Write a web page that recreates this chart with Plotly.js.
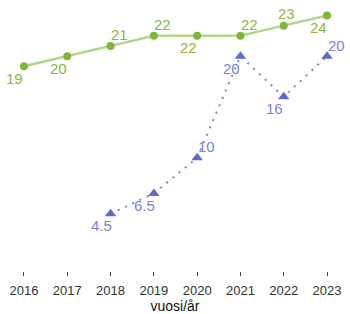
<!DOCTYPE html>
<html>
<head>
<meta charset="utf-8">
<script src="https://cdn.plot.ly/plotly-3.0.1.min.js"></script>
<style>html,body{margin:0;padding:0;background:#fff;}#chart{width:350px;height:314px;}</style>
</head>
<body>
<div id="chart"></div>
<script>
var yearsGreen = [2016, 2017, 2018, 2019, 2020, 2021, 2022, 2023];
var valuesGreen = [19, 20, 21, 22, 22, 22, 23, 24];
var labelsGreen = ["19", "20", "21", "22", "22", "22", "23", "24"];
var posGreen = ["bl", "bl", "tr", "tr", "bl", "tr", "tc", "bl"];

var yearsBlue = [2018, 2019, 2020, 2021, 2022, 2023];
var valuesBlue = [4.5, 6.5, 10, 20, 16, 20];
var labelsBlue = ["4.5", "6.5", "10", "20", "16", "20"];
var posBlue = ["bl", "bl", "tr", "bl", "bc", "tr"];

var tickYears = [2016, 2017, 2018, 2019, 2020, 2021, 2022, 2023];

var fontFam = "Liberation Sans, Arial, sans-serif";
var greenText = "#86b843";
var blueText = "#7a84d4";

// label offset (pixels) per direction keyword
var nudge = {
  bl: {x: -9, y: -12},
  tr: {x: 9, y: 11},
  tc: {x: 3, y: 12},
  bc: {x: -9, y: -12}
};

function makeAnn(xs, ys, labels, pos, color) {
  return xs.map(function (xv, i) {
    var n = nudge[pos[i]];
    return {
      x: xv, y: ys[i], xref: "x", yref: "y", text: labels[i], showarrow: false,
      xanchor: "center", yanchor: "middle", xshift: n.x, yshift: n.y,
      font: {family: fontFam, size: 15, color: color}
    };
  });
}

var traces = [
  {
    x: yearsGreen, y: valuesGreen, type: "scatter", mode: "lines+markers",
    line: {color: "#b2d68a", width: 2.5},
    marker: {color: "#80b53c", size: 8, symbol: "circle"},
    cliponaxis: false, hoverinfo: "none"
  },
  {
    x: yearsBlue, y: valuesBlue, type: "scatter", mode: "lines+markers",
    line: {color: "#7a84d4", width: 2, dash: "2px,6px"},
    marker: {color: "#5f6bc9", size: 10, symbol: "triangle-up"},
    cliponaxis: false, hoverinfo: "none"
  }
];

var layout = {
  width: 350, height: 314,
  margin: {l: 0, r: 0, t: 0, b: 43},
  paper_bgcolor: "#ffffff", plot_bgcolor: "#ffffff",
  showlegend: false,
  font: {family: fontFam, color: "#333333"},
  annotations: makeAnn(yearsGreen, valuesGreen, labelsGreen, posGreen, greenText)
    .concat(makeAnn(yearsBlue, valuesBlue, labelsBlue, posBlue, blueText)),
  xaxis: {
    range: [2015.446, 2023.531],
    tickvals: tickYears, ticktext: tickYears.map(String),
    ticks: "outside", ticklen: 4, tickwidth: 1, tickcolor: "#444444",
    ticklabelstandoff: 3,
    tickfont: {family: fontFam, size: 13, color: "#333333"},
    showgrid: false, zeroline: false, showline: false,
    title: {text: "vuosi/år", font: {family: fontFam, size: 14, color: "#111111"}, standoff: 5}
  },
  yaxis: {
    range: [-1.13, 25.52],
    visible: false, showgrid: false, zeroline: false
  }
};

Plotly.newPlot("chart", traces, layout, {displayModeBar: false, staticPlot: true});
</script>
</body>
</html>
